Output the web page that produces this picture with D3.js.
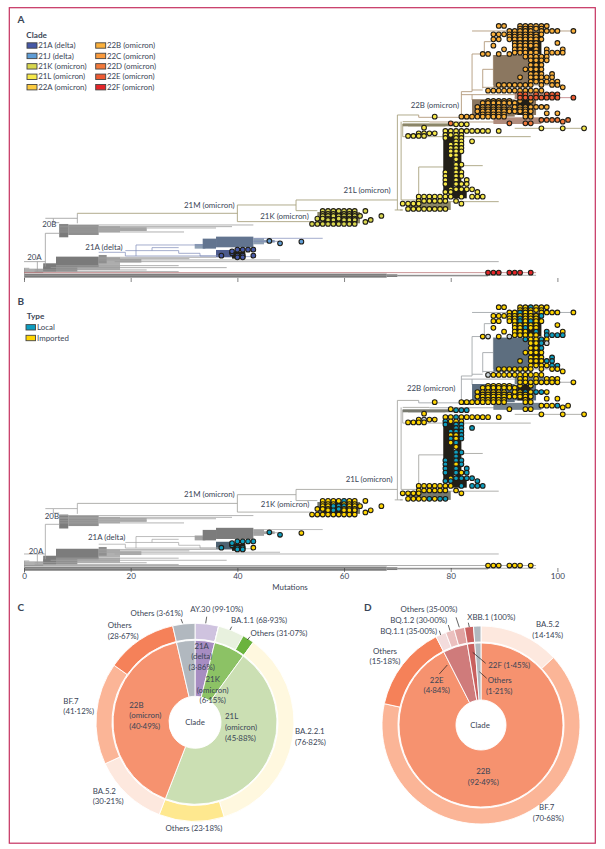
<!DOCTYPE html>
<html><head><meta charset="utf-8">
<script src="https://cdn.jsdelivr.net/npm/d3@7"></script>
<style>html,body{margin:0;background:#fff}svg{display:block}text{font-family:Lato,"Noto Sans",sans-serif;fill:#3a4556}</style>
</head><body><svg id="c" width="605" height="849"></svg>
<script>
/* ---------- data: phylogeny (mutations, tree row) ---------- */
const cladeNames=["21A (delta)","21J (delta)","21K (omicron)","21L (omicron)","22A (omicron)","22B (omicron)","22C (omicron)","22D (omicron)","22E (omicron)","22F (omicron)"];
const typeNames=["Local","Imported"];
const mutationTicks=[0,20,40,60,80,100];
// tips: [row, mutations, of which local, of which unknown]
const tips21J=[[723,[46],[46]],[730,[48],[48]],[725,[52],[]]];
const tips21A=[[767,[37,40,41,43],[37,40,41]],[760,[39],[39]],[754,[39],[39]],[749,[40,41,42,43],[40,41,42,43]],[772,[40,41],[40,41]]];
const tips21K=[
[633,[56,57,58,59,60,61,62,64],[60]],
[642,[56,57,58,60,61,62],[]],
[648,[56,57,58,59,60,61,62,63,67],[58,59,60]],
[656,[55,56,57,59,60,61,62],[59]],
[660,[57,58,60,61,62,65],[58]],
[666,[64],[]],
[672,[54,55,56,57,58,59,60,61,62],[]]];
const tips21L=[
[383,[75],[]],[373,[81,82,83],[81,82,83]],
[385,[97,101,105],[]],
[400,[74,75,76,77],[],[75]],
[408,[72,73,74,75],[]],
[393,[79,80,81,82,83,84,85,86,87,89],[81]],
[405,[79,80,81,82],[79]],
[414,[79,81,82],[79,81,82]],
[424,[81,82,84],[81,82,84]],
[434,[80,81,82],[80,81,82]],
[444,[80,81,82],[82]],
[454,[80,81,82],[80,82]],
[466,[80,81],[81]],
[478,[81],[]],
[494,[81,82],[81,82]],
[505,[81],[81]],
[517,[79,81,82],[79,81,82]],
[528,[79,81,82],[79,82]],
[540,[79,81,83],[79,81,83]],
[552,[79,81,82,83],[79,81,83]],
[568,[80,81,82,83,84],[81,82,83,84]],
[576,[79,80,85],[79,80,85]],
[590,[74,75,76,77,78,79,80,82,84,85,86],[82,84,85,86]],
[603,[74,75,76,77,78,79,81],[]],
[611,[71,72,73,74,82],[]],
[627,[72,73,74,75,76,77,78,79],[76,78,79]]];
const tips22B=[
[78,[89,90,93,94,95,96,97,98],[95]],
[86,[93,94,95,96,97],[]],
[93,[91,92,93,94,95,97,98,99,100,103],[93]],
[103,[88,89,90,91,92,93,94,95,96,97],[97]],
[110,[91,92,93,94,95,96],[93]],
[118,[88,89,91,92,93,94,95,96,97],[93,95]],
[129,[92,93,94,95,96,100],[]],
[137,[88,92,93,94,95,96],[94]],
[148,[90,92,93,94,96,98,101],[96,98]],
[158,[92,93,94,95,96,98,99,100,101],[98,99,100,101]],
[162,[86,87,89,91],[],[87,91]],
[170,[94,95,96,97,98],[94,97],[]],
[181,[95,96,97,98],[97],[98]],
[195,[95,96,97],[97]],
[208,[94,95,96,97],[]],
[222,[95,96,97,99],[99]],
[232,[93,95,96,97,98,99],[98,99]],
[245,[95,96,97,98,99,100],[100,99]],
[255,[89,90,91,92,93,94,95,97,99,100],[]],
[262,[101],[]],
[272,[87,88,89,90,91,92,93,94,95,96,97],[],[87]],
[303,[87,88,89,90,91,93,95],[94]],
[309,[86,87,88,89,90,91,92],[]],
[321,[85,86,87,88,89,90,92,93,94,95,96,97,98],[96,97,94]],
[328,[86,87,88,89,90,91,93,94],[]],
[334,[85,86,87,88,89,90,91,92,93,94,95],[]],
[340,[98,100],[]],
[343,[86,87,88,89,90,94],[]],
[350,[82,83,84,85,86,87,88,89,90,94,95],[]]];
const tips22D=[[360,[97,98,99,100,102],[100]],[365,[101],[]],[370,[80,91,94,95],[]]];
const tips22E=[[283,[93,94,96,98,99,100],[]],[293,[93,94,95,96,97,98,99,100,103],[]]];
const tips22F=[[818,[87,88,89,91,92,93,95],[]]];
const tipImportedExtra=[[350,[77]]];
// branches: [from, to, row]
const branchBasal=[[0,4,785],[4,6.6,700],[0,96,826],[17,89,785],[4,5.5,655],[5.5,10,655],[5,38,803],[2,29,815],[6.6,43,675],[6.6,39,680],[6.6,36,684],[6.6,30,696],[6.6,23,690],[14,48,780],[14,31,776],[0,1,805],[5.5,6.6,668],[2,23,810],[6,29,797],[14,36,772]];
const branchDelta=[[14,19,757],[19,37,768],[19,21,752],[21,33.5,735],[24,29,743],[21,29,752],[29,33,760],[33,37,768],[43,56,715],[39,43,770],[43,48,724]];
const branchOmicron=[[10,40,640],[40,51,615],[51,70,600],[51,55,632],[40,54,665],[70,74,345],[70.5,71,630],[69.5,71,630],[70.7,74,600],[74,89,605],[71,95,410],[71,76,365],[71,83,372],[72,79,378],[74,79,501],[79,86,497],[92,105,385]];
const branch22B=[[74,82,352],[82,84,275],[84,86,162],[84,86,270],[86,88,208],[86.3,88,125],[86,90,262],[84,100,93],[98,103,93],[90,101,255],[82,95,284],[84,89,300],[76,92,366]];
const branch22F=[[0,96,818],[92,103,293]];
// connectors: [mutation, rowFrom, rowTo]
const connBasal=[[4,700,800],[5.5,655,668],[10,640,670],[0.1,805,840],[2.5,785,815]];
const connDelta=[[19,757,768],[21,735,768],[24,743,752],[29,752,760],[33,760,768]];
const connOmicron=[[40,615,665],[51,600,632],[70,345,630],[70.7,365,600],[71,372,410],[74,501,600],[79,497,501]];
const conn22B=[[74,345,352],[82,275,350],[84,162,275],[86,155,170],[86.3,125,160],[86,208,265],[88,165,255],[84,284,300]];
// fans of closely stacked branches: [from, to, rowFrom, rowTo]
const bandBasalLight=[[0,3.6,806,819],[6,18,796,810],[14,18,772,795],[18,22,777,788],[14,18,679,697],[18,23,682,693]];
const bandBasalMid=[[8.3,14,675,705],[3.6,10,800,815],[14,15.5,765,790]];
const bandBasal=[[0,68,821,833],[68,70,823,831],[70,87,825,829],[3.6,6,790,815],[6,14,770,800],[6.6,8.3,672,712]];
const bandDeltaLight=[[43,45,715,733],[45,47,720,728],[32,34,732,746]];
const bandDelta=[[33.5,36,716,746],[36,43,710,742]];
const bandDelta21A=[[36,39,750,772]];
const bandDarkDelta=[[39,41.5,756,776]];
const bandOmicron=[[72,80,605,630],[71,81,371,379],[55,63,636,670],[72,74,402,410]];
const bandDarkOmicron=[[78.6,80.6,410,578],[80,83,570,595],[81,82,425,570],[56,62.5,638,668]];
const band22B=[[88,94.5,165,262],[84,92,298,350],[92,96,300,345],[82,84,345,358]];
const bandDark22B=[[94.6,97,165,242],[92,97,95,162],[92.5,95,300,345]];
const band22E=[[88,97,352,372],[92,100,278,298]];
// branch labels: [text, mutation of left edge, row]
const labelsA=[["20B",3.4,673],["20A",0.6,771],["21A (delta)",11.5,742],["21M (omicron)",30,616],["21K (omicron)",44.3,649],["22B (omicron)",72.5,316],["21L (omicron)",59.9,571]];
const labelsB=[["20B",3.9,676],["20A",0.9,777],["21A (delta)",12,737],["21M (omicron)",30,614],["21K (omicron)",44.4,643],["22B (omicron)",71.8,311],["21L (omicron)",60.3,571]];

/* ---------- data: pies ---------- */
const innerCNames=["21A","21K","21L","22B","Others"];
const innerCValues=[3.86,6.15,45.88,40.49,3.62];
const outerCNames=["AY.30","rest21A","BA.1.1","Others21K","BA.2.2.1","Others21L","BA.5.2","BF.7","Others22B","OthersClade"];
const outerCValues=[3.825,0.035,4.239,1.911,35.245,10.635,12.232,16.649,11.609,3.62];
const innerDValues=[92.49,4.84,1.45,1.21];
const outerDValues=[13.078,65.372,14.04,1.694,1.452,1.694,1.45,1.21];

/* ---------- styling ---------- */
const cladeColor=["#4658A6","#5F9DD6","#D8D64E","#F6E84A","#FBCB40","#FBB03B","#F99A3C","#F2793A","#EE5A32","#E52528"];
const localColor="#0E9DBF",importedColor="#FFD500",unknownColor="#C9D3D8";
const innerCColors=["#A78DC2","#8CC265","#CBDFB3","#F6926F","#B1B8BF"];
const outerCColors=["#CFC3DF","#CFC3DF","#E8F1DE","#6BB33E","#FFF8DF","#FEE88F","#FDE8DE","#FBB597","#F58159","#B1B8BF"];
const innerDColors=["#F6926F","#CF7B7B","#C9605F","#B1B8BF"];
const outerDColors=["#FDE8DE","#FBB597","#F58159","#F3DCDC","#EBC0BF","#E0A3A2","#C9605F","#B1B8BF"];

const svg=d3.select("#c");
svg.append("rect").attr("x",9.3).attr("y",7.7).attr("width",586).attr("height",835.5).attr("fill","none").attr("stroke","#C5305F").attr("stroke-width",1.2);
const x=d3.scaleLinear([0,100],[24,557.4]);
const yA=d3.scaleLinear([0,820],[0,273.3]);
const yB=d3.scaleLinear([0,820],[280,566.2]);
const FS=7.9;

function txt(g,s,px,py,anchor="start",opt={}){
  return g.append("text").attr("x",px).attr("y",py).attr("dy","0.34em").attr("text-anchor",anchor)
    .attr("font-size",opt.size||FS).attr("font-weight",opt.bold?700:400).style("fill",opt.fill||null).text(s);
}
function lines(g,data,y,color,w){
  g.append("g").selectAll("line").data(data).join("line")
   .attr("x1",d=>x(d[0])).attr("x2",d=>x(d[1])).attr("y1",d=>y(d[2])).attr("y2",d=>y(d[2]))
   .attr("stroke",color).attr("stroke-width",w);
}
function conns(g,data,y,color,w){
  g.append("g").selectAll("line").data(data).join("line")
   .attr("x1",d=>x(d[0])).attr("x2",d=>x(d[0])).attr("y1",d=>y(d[1])).attr("y2",d=>y(d[2]))
   .attr("stroke",color).attr("stroke-width",w);
}
function bands(g,data,y,color){
  g.append("g").selectAll("rect").data(data).join("rect")
   .attr("x",d=>x(d[0])).attr("width",d=>x(d[1])-x(d[0])).attr("y",d=>y(d[2])).attr("height",d=>y(d[3])-y(d[2])).attr("fill",color);
}
function drawTree(y,pal,colorOf,labels,axisY,showAxisLabels){
  const g=svg.append("g");
  bands(g,bandBasalLight,y,pal.basalLight);
  bands(g,bandBasalMid,y,pal.basalMid);
  bands(g,bandBasal,y,pal.basalBand);
  lines(g,branchBasal,y,pal.basal,.8);conns(g,connBasal,y,pal.basal,.8);
  bands(g,bandDeltaLight,y,pal.deltaLight);
  bands(g,bandDelta,y,pal.deltaBand);
  bands(g,bandDelta21A,y,pal.delta21A);
  lines(g,branchDelta,y,pal.delta,.7);conns(g,connDelta,y,pal.delta,.7);
  lines(g,branchOmicron,y,pal.omicron,.9);conns(g,connOmicron,y,pal.omicron,.9);
  lines(g,branch22B,y,pal.b22,.9);conns(g,conn22B,y,pal.b22,.9);
  lines(g,branch22F,y,pal.f22,.7);
  bands(g,bandOmicron,y,pal.omicronBand);
  bands(g,band22B,y,pal.b22Band);
  bands(g,band22E,y,pal.e22Band);
  bands(g,bandDarkOmicron,y,"#221F18");
  bands(g,bandDark22B,y,"#221F18");
  bands(g,bandDarkDelta,y,"#221F18");
  const tipSets=[[tips21J,1],[tips21A,0],[tips21K,2],[tips21L,3],[tips22F,9],[tips22B,5],[tips22D,7],[tips22E,8]];
  const pts=[];
  tipSets.forEach(([rows,cl])=>rows.forEach(([r,ms,loc,unk])=>ms.forEach(m=>pts.push({m,r,cl,local:loc.includes(m),unk:(unk||[]).includes(m)}))));
  tipImportedExtra.forEach(([r,ms])=>ms.forEach(m=>pts.push({m,r,cl:3,local:false,unk:false})));
  g.append("g").selectAll("circle").data(pts).join("circle")
   .attr("cx",d=>x(d.m)).attr("cy",d=>y(d.r)).attr("r",2.35)
   .attr("fill",colorOf).attr("stroke","#1e1c16").attr("stroke-width",1.05);
  labels.forEach(([s,m,r])=>txt(svg,s,x(m),y(r)));
  const ax=svg.append("g").attr("transform",`translate(0,${axisY})`)
    .call(d3.axisBottom(x).tickValues(mutationTicks).tickSize(4).tickPadding(1.5).tickFormat(showAxisLabels?d3.format("d"):""));
  ax.select(".domain").remove();
  ax.selectAll("line").attr("stroke","#333").attr("stroke-width",.6);
  ax.selectAll("text").attr("font-size",FS+.2);
  ax.attr("font-family",null);
}
drawTree(yA,{basal:"#9a9a9a",basalBand:"#7a7a7a",basalMid:"#8f8f8f",basalLight:"#adadad",delta:"#7d89b8",deltaBand:"#62748f",deltaLight:"#8fa0b4",delta21A:"#4c5a8c",omicron:"#a9a380",omicronBand:"#8b8668",b22:"#b29a7c",b22Band:"#8b7760",e22Band:"#b08c7d",f22:"#b3666a"},
  d=>cladeColor[d.cl],labelsA,278,false);
drawTree(yB,{basal:"#a2a2a2",basalBand:"#7c7c7c",basalMid:"#909090",basalLight:"#b0b0b0",delta:"#a2a2a2",deltaBand:"#7c7c7c",deltaLight:"#a4a4a4",delta21A:"#4e6272",omicron:"#a8a8a4",omicronBand:"#77796f",b22:"#a4a8ab",b22Band:"#5d6e7f",e22Band:"#75838f",f22:"#8a8a8a"},
  d=>d.unk?unknownColor:d.local?localColor:importedColor,labelsB,568,true);
txt(svg,"Mutations",290,587,"middle");

/* panel letters and legends */
const bold={bold:true,size:FS+.3};
txt(svg,"A",17.5,20,"start",{bold:true,size:10});
txt(svg,"B",17.5,301.7,"start",{bold:true,size:10});
txt(svg,"C",17.5,608,"start",{bold:true,size:10});
txt(svg,"D",364,608,"start",{bold:true,size:10});
txt(svg,"Clade",26.3,35.3,"start",bold);
txt(svg,"Type",26.7,316.7,"start",bold);
const legY=d3.scalePoint([0,1,2,3,4],[45.5,87.2]);
cladeNames.forEach((n,i)=>{
  const c=i<5?27:95.7,yy=legY(i%5);
  svg.append("rect").attr("x",c).attr("y",yy-2.7).attr("width",10).attr("height",5.4).attr("fill",cladeColor[i]).attr("stroke","#444").attr("stroke-width",.9);
  txt(svg,n,c+11.2,yy);
});
typeNames.forEach((n,i)=>{
  const yy=327.3+i*10.7;
  svg.append("rect").attr("x",26).attr("y",yy-2.7).attr("width",9.5).attr("height",5.4).attr("fill",i?importedColor:localColor).attr("stroke","#444").attr("stroke-width",.9);
  txt(svg,n,37,yy);
});

/* pies */
function pieRing(cx,cy,vals,cols,r0,r1){
  const arcs=d3.pie().sort(null).value(d=>d)(vals);
  const arc=d3.arc().innerRadius(r0).outerRadius(r1);
  svg.append("g").attr("transform",`translate(${cx},${cy})`).selectAll("path").data(arcs).join("path")
    .attr("d",arc).attr("fill",(d,i)=>cols[i]).attr("stroke","#fff").attr("stroke-width",.9);
}
pieRing(195,722.3,innerCValues,innerCColors,26,82);
pieRing(195,722.3,outerCValues,outerCColors,83,99);
pieRing(481,725,innerDValues,innerDColors,25,82);
pieRing(481,725,outerDValues,outerDColors,83,99);

const pieLabels=[
["Others (3·61%)",156.7,613,"middle"],["AY.30 (99·10%)",216.7,609,"middle"],["BA.1.1 (68·93%)",259,620,"middle"],["Others (31·07%)",279,633,"middle"],
["Others",107.7,625],["(28·67%)",107.7,636],["BF.7",63.3,701],["(41·12%)",63.3,711.7],["BA.5.2",92.7,791],["(30·21%)",92.7,801.7],
["Others (23·18%)",194,828,"middle"],["BA.2.2.1",295,731],["(76·82%)",295,742],
["21A",201.7,646,"middle"],["(delta)",201.7,656.7,"middle"],["(3·86%)",201.7,667,"middle"],
["21K",212.7,679,"middle"],["(omicron)",212.7,690,"middle"],["(6·15%)",212.7,700.7,"middle"],
["22B",129.3,705.7],["(omicron)",129.3,715.7],["(40·49%)",129.3,726.7],
["21L",225,716.7],["(omicron)",225,727.7],["(45·88%)",225,738.3],["Clade",195,722.3,"middle"],
["Others (35·00%)",429,609,"middle"],["BQ.1.2 (30·00%)",418.7,620,"middle"],["BQ.1.1 (35·00%)",408.7,631,"middle"],["XBB.1 (100%)",491.3,617.3,"middle"],
["BA.5.2",547.7,624,"middle"],["(14·14%)",547.7,635,"middle"],["Others",385,651,"middle"],["(15·18%)",385,661.7,"middle"],
["22E",436.7,680,"middle"],["(4·84%)",436.7,690.7,"middle"],["22F (1·45%)",488.3,665.3],["Others",487.7,680.3],["(1·21%)",486,691.3],
["22B",483.3,771.7,"middle"],["(92·49%)",483.3,782.7,"middle"],["BF.7",546.7,807.7,"middle"],["(70·68%)",548.3,818.3,"middle"],["Clade",480,725,"middle"]];
pieLabels.forEach(([s,a,b,an])=>txt(svg,s,a,b,an||"start"));
const leaders=[[181,619,182.7,623.3],[206.7,616.7,205.7,623.3],[231.7,626.7,230,630],[250,636.7,247.3,640],
[485.7,663.3,472.7,652.3],[486.7,678.3,479.3,671.7],[439.3,674,447.3,665],[439.3,630.7,440.7,635],[448.3,625,450,630.7],[456,617.3,459.3,627.3],[468.3,622.7,469.3,627]];
svg.append("g").selectAll("line").data(leaders).join("line")
 .attr("x1",d=>d[0]).attr("y1",d=>d[1]).attr("x2",d=>d[2]).attr("y2",d=>d[3]).attr("stroke","#222").attr("stroke-width",.7);
</script></body></html>
